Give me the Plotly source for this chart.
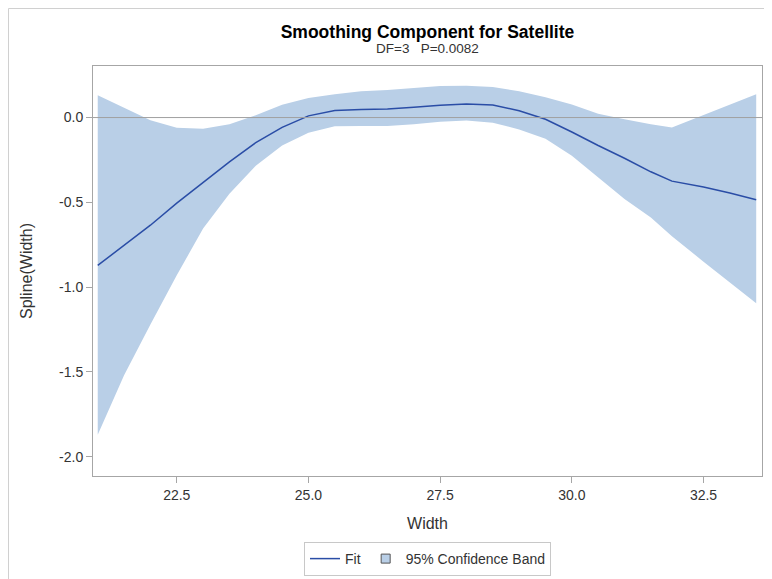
import plotly.graph_objects as go

# Width values (x) and estimated spline component with 95% band
width = [21.0, 21.5, 22.0, 22.5, 23.0, 23.5, 24.0, 24.5, 25.0, 25.5, 26.0, 26.5,
         27.0, 27.5, 28.0, 28.5, 29.0, 29.5, 30.0, 30.5, 31.0, 31.5, 31.9, 32.5,
         33.0, 33.5]
fit = [-0.872, -0.755, -0.635, -0.505, -0.385, -0.262, -0.148, -0.058, 0.010, 0.042,
       0.048, 0.05, 0.06, 0.073, 0.08, 0.074, 0.04, -0.01, -0.085, -0.165, -0.24,
       -0.32, -0.375, -0.41, -0.445, -0.485]
upper = [0.132, 0.058, -0.016, -0.06, -0.066, -0.04, 0.013, 0.075, 0.115, 0.138,
         0.155, 0.163, 0.176, 0.186, 0.187, 0.18, 0.155, 0.12, 0.077, 0.022,
         -0.01, -0.04, -0.058, 0.016, 0.077, 0.138]
lower = [-1.87, -1.52, -1.22, -0.93, -0.655, -0.45, -0.285, -0.165, -0.09, -0.052,
         -0.05, -0.05, -0.04, -0.025, -0.017, -0.03, -0.07, -0.125, -0.225, -0.35,
         -0.48, -0.59, -0.70, -0.85, -0.97, -1.095]

title = "Smoothing Component for Satellite"
subtitle = "DF=3&nbsp;&nbsp;&nbsp;P=0.0082"
x_ticks = [22.5, 25.0, 27.5, 30.0, 32.5]
y_ticks = [0.0, -0.5, -1.0, -1.5, -2.0]

FONT = "Liberation Sans, Arial, sans-serif"
BAND = "#B9CFE7"
LINE = "#2A4DA6"
AXIS = "#A6A6A6"
TXT = "#333333"

# page has an 8px body margin; figure sized to fit the viewport
W, H = 764, 571
ML, MT = 85, 58
pw, ph = 669, 410
MR = W - ML - pw
MB = H - MT - ph

fig = go.Figure()
fig.add_trace(go.Scatter(x=width, y=lower, mode="lines", line=dict(width=0, color=BAND),
                         showlegend=False, hoverinfo="skip"))
fig.add_trace(go.Scatter(x=width, y=upper, mode="lines", line=dict(width=0, color=BAND),
                         fill="tonexty", fillcolor=BAND, name="95% Confidence Band",
                         showlegend=False))
fig.add_trace(go.Scatter(x=width, y=fit, mode="lines", line=dict(width=1.5, color=LINE),
                         name="Fit"))
# legend entry for the band (square swatch)
fig.add_trace(go.Scatter(x=[None], y=[None], mode="markers", name="95% Confidence Band",
                         marker=dict(symbol="square", size=9, color=BAND,
                                     line=dict(color="#555555", width=1))))

fig.add_hline(y=0, line=dict(color="#A0A0A0", width=1))

# outer frame (extends beyond right/bottom edges as in reference)
fig.add_shape(type="rect", xref="paper", yref="paper",
              x0=(0.5 - ML) / pw, x1=(W + 20 - ML) / pw,
              y0=-(H + 20 - MT - ph) / ph, y1=1 + (MT - 0.5) / ph,
              line=dict(color="#D0D0D0", width=1), fillcolor="rgba(0,0,0,0)", layer="below")

fig.update_layout(
    width=W, height=H,
    margin=dict(l=ML, r=MR, t=MT, b=MB, autoexpand=False),
    paper_bgcolor="white", plot_bgcolor="white",
    font=dict(family=FONT, size=14, color=TXT),
    title=dict(text="<b>" + title + "</b>", x=(ML + pw / 2) / W, xanchor="center",
               y=1 - 23.5 / H, yanchor="middle",
               font=dict(family=FONT, size=17.5, color="black")),
    showlegend=True,
    legend=dict(orientation="h", x=0.5, xanchor="center", y=-66 / ph,
                yanchor="top", bordercolor="#C8C8C8", borderwidth=1,
                traceorder="normal",
                font=dict(family=FONT, size=14, color=TXT)),
    xaxis=dict(range=[20.91, 33.61], tickvals=x_ticks,
               ticktext=[f"{v:.1f}" for v in x_ticks],
               showgrid=False, zeroline=False, showline=True, linecolor=AXIS, mirror=True,
               ticks="outside", ticklen=6, tickcolor=AXIS,
               tickfont=dict(size=14, color=TXT),
               title=dict(text="Width", font=dict(size=16, color=TXT), standoff=16)),
    yaxis=dict(range=[-2.114, 0.304], tickvals=y_ticks,
               ticktext=[f"{v:.1f}" for v in y_ticks],
               showgrid=False, zeroline=False, showline=True, linecolor=AXIS, mirror=True,
               ticks="outside", ticklen=6, tickcolor=AXIS,
               tickfont=dict(size=14, color=TXT),
               title=dict(text="Spline(Width)", font=dict(size=16, color=TXT), standoff=22)),
    annotations=[dict(text=subtitle, xref="paper", yref="paper", x=0.5, y=1,
                      xanchor="center", yanchor="middle", yshift=18, showarrow=False,
                      font=dict(family=FONT, size=13.5, color=TXT))],
)

fig.write_html("out.html")
